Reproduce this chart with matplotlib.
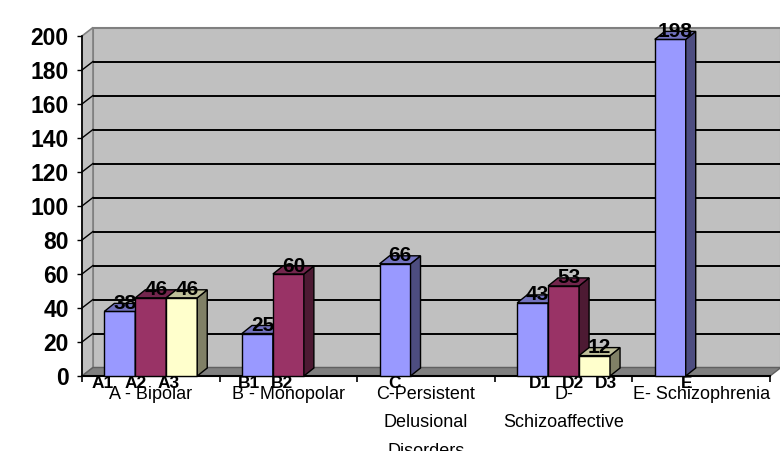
import numpy as np
import matplotlib
matplotlib.use("Agg")
import matplotlib.pyplot as plt
from matplotlib.patches import Polygon, Rectangle

# ---- data ----
categories = ["A - Bipolar", "B - Monopolar",
              "C-Persistent\nDelusional\nDisorders",
              "D-\nSchizoaffective", "E- Schizophrenia"]
series1 = [38, 25, 66, 43, 198]
series2 = [46, 60, None, 53, None]
series3 = [46, None, None, 12, None]
names1 = ["A1", "B1", "C", "D1", "E"]
names2 = ["A2", "B2", None, "D2", None]
names3 = ["A3", None, None, "D3", None]
yticks = [0, 20, 40, 60, 80, 100, 120, 140, 160, 180, 200]

plt.rcParams['font.family'] = ['Liberation Sans', 'DejaVu Sans']

W, H = 780, 451
fig = plt.figure(figsize=(W / 100, H / 100), dpi=100)
left_px, right_px, floor_px, top_px = 82, 770, 376, 36
ax = fig.add_axes([left_px / W, (H - floor_px) / H,
                   (right_px - left_px) / W, (floor_px - top_px) / H])
ncat = len(categories)
ymax = 200
ax.set_xlim(0, ncat)
ax.set_ylim(0, ymax)

# pixel -> data unit factors
ux = ncat / (right_px - left_px)
uy = ymax / (floor_px - top_px)

# depth of the back wall and of the bars
wdx, wdy = 11 * ux, 8.5 * uy
bdx, bdy = 10 * ux, 8 * uy

wall_c = '#C0C0C0'
edge_c = '#808080'

# back wall
ax.add_patch(Rectangle((wdx, wdy), ncat, ymax, fc=wall_c, ec=edge_c,
                       lw=1.5, zorder=0.5, clip_on=False))
# side wall
ax.add_patch(Polygon([(0, 0), (wdx, wdy), (wdx, ymax + wdy), (0, ymax)],
                     closed=True, fc=wall_c, ec=edge_c, lw=1.2,
                     zorder=0.6, clip_on=False))
# floor
ax.add_patch(Polygon([(0, 0), (ncat, 0), (ncat + wdx, wdy), (wdx, wdy)],
                     closed=True, fc='#808080', ec='#606060', lw=1,
                     zorder=0.7, clip_on=False))

# gridlines on back and side walls
for v in yticks[1:-1]:
    ax.plot([wdx, ncat + wdx], [v + wdy, v + wdy], color='black', lw=1.4,
            zorder=1, clip_on=False, solid_capstyle='butt')
    ax.plot([0, wdx], [v, v + wdy], color='black', lw=1.0,
            zorder=1, clip_on=False)

fronts = ['#9999FF', '#993366', '#FFFFCC']
sides = ['#4D4D80', '#4D1A33', '#808066']
tops = ['#7373BF', '#73264D', '#BFBF99']

all_series = [series1, series2, series3]
all_names = [names1, names2, names3]
bw = 0.225
centers = np.arange(ncat) + 0.5

for s, (vals, names) in enumerate(zip(all_series, all_names)):
    z = 3 + s
    xs = centers + (s - 1) * bw
    for x, v, nm in zip(xs, vals, names):
        if v is None:
            continue
        x0, x1 = x - bw / 2, x + bw / 2
        ax.bar(x, v, width=bw, color=fronts[s], edgecolor='black', lw=1,
               zorder=z, clip_on=False)
        ax.add_patch(Polygon([(x1, 0), (x1, v), (x1 + bdx, v + bdy),
                              (x1 + bdx, bdy)], closed=True, fc=sides[s],
                             ec='black', lw=1, zorder=z, clip_on=False))
        ax.add_patch(Polygon([(x0, v), (x1, v), (x1 + bdx, v + bdy),
                              (x0 + bdx, v + bdy)], closed=True, fc=tops[s],
                             ec='black', lw=1, zorder=z, clip_on=False))
        ax.text(x + bdx / 2, v + bdy, f"{v}", ha='center', va='center',
                fontsize=15, fontweight='bold', zorder=10, clip_on=False)
        lx = x + 0.06 * (x - 2.33)
        ax.annotate(nm, (lx, 0), xytext=(0, -8), textcoords='offset pixels',
                    ha='center', va='center', fontsize=12.5,
                    fontweight='bold', zorder=10, annotation_clip=False)

# axes styling
for sp in ['top', 'right']:
    ax.spines[sp].set_visible(False)
ax.spines['left'].set_color('black')
ax.spines['bottom'].set_color('black')
ax.spines['left'].set_linewidth(1.2)
ax.spines['bottom'].set_linewidth(1.5)
ax.spines['left'].set_zorder(2)
ax.spines['bottom'].set_zorder(2)
ax.set_facecolor('none')

ax.set_yticks(yticks)
ax.set_yticklabels([str(t) for t in yticks])
ax.tick_params(axis='y', direction='out', length=3.6, width=1,
               labelsize=16.5, pad=6)
for lab in ax.get_yticklabels():
    lab.set_fontweight('bold')

ax.set_xticks(centers)
ax.set_xticklabels(categories, fontsize=13, linespacing=1.85)
ax.set_xticks(np.arange(ncat + 1), minor=True)
ax.tick_params(axis='x', which='major', length=0, pad=7.5)
ax.tick_params(axis='x', which='minor', direction='out', length=4.5,
               width=1.2)

fig.savefig("out.png", dpi=100)
